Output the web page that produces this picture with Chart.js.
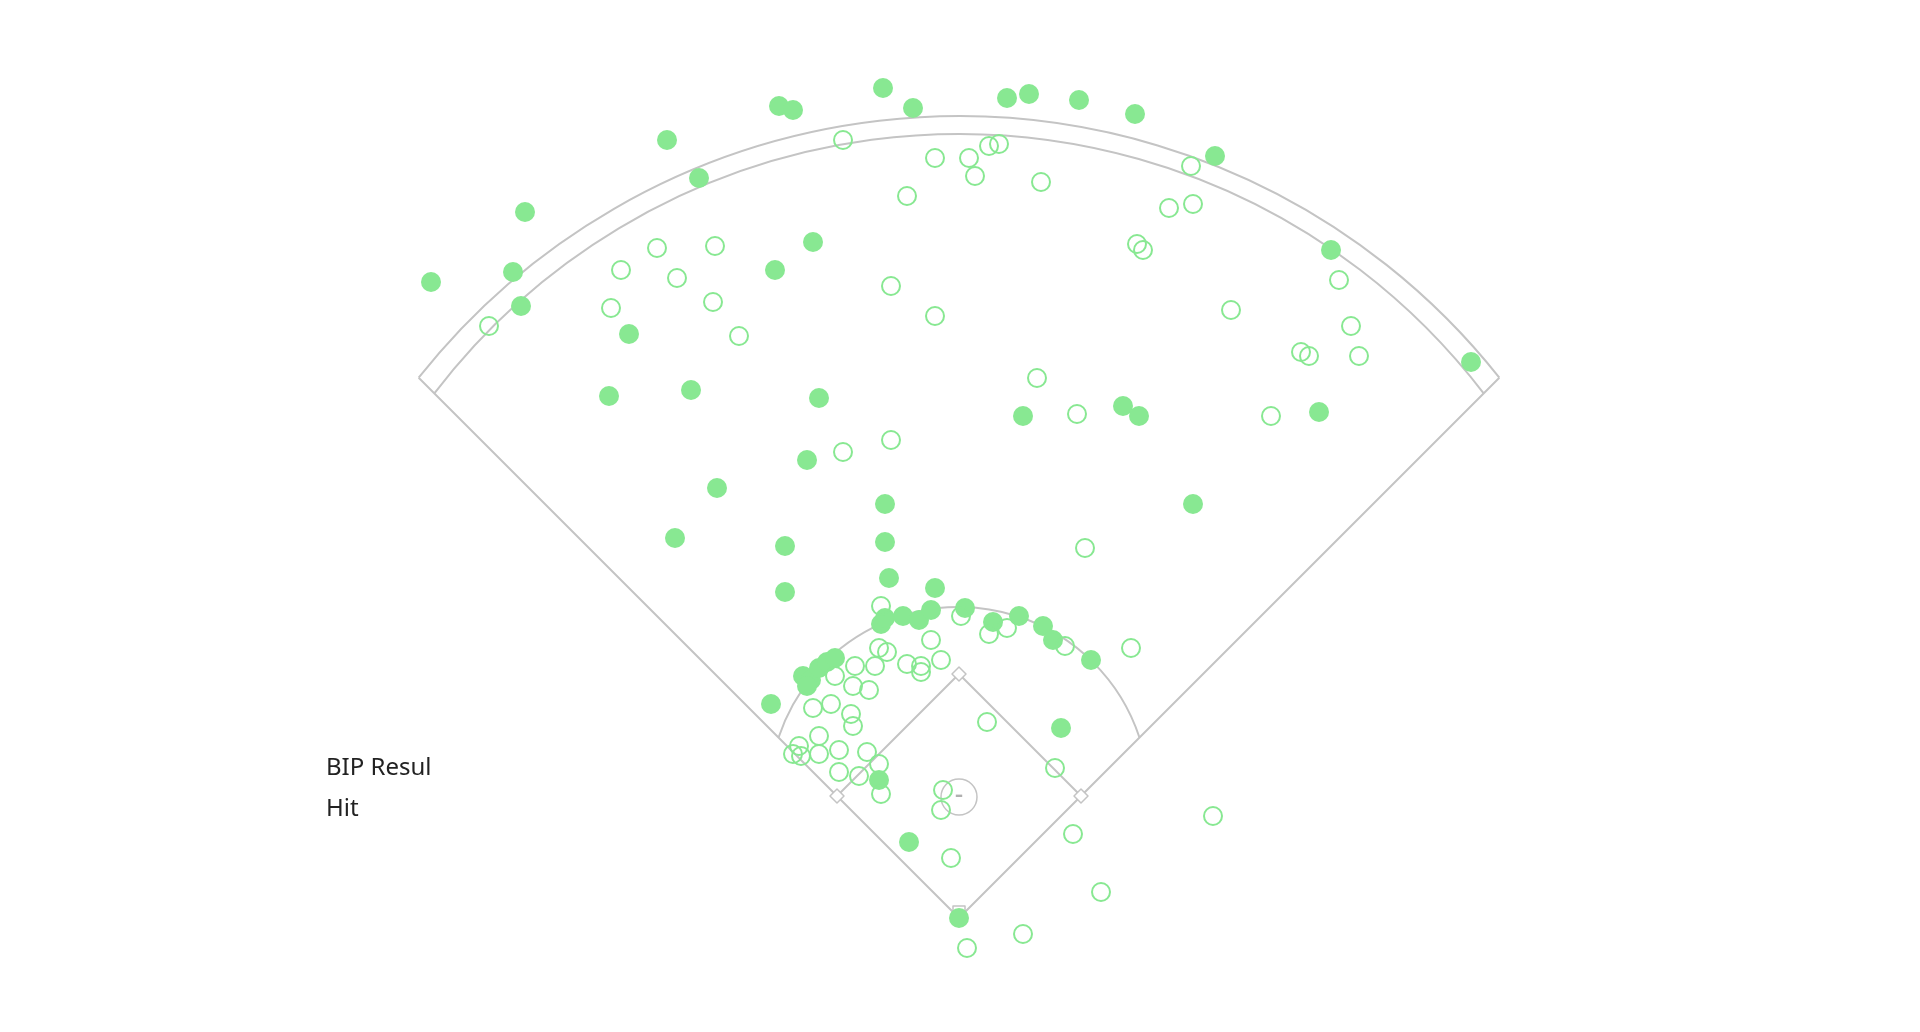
<!DOCTYPE html>
<html>
<head>
<meta charset="utf-8">
<title>Spray chart</title>
<script src="https://cdn.jsdelivr.net/npm/chart.js@4.4.1/dist/chart.umd.min.js"></script>
<style>
  html, body { margin: 0; padding: 0; background: #fff; overflow: hidden; }
  #wrap { position: relative; width: 1920px; height: 1032px; }
  #legend {
    position: absolute; left: 326px; top: 745px;
    font-family: "Noto Sans", sans-serif; font-size: 24px; line-height: 41px; color: #222;
  }
</style>
</head>
<body>
<div id="wrap">
  <canvas id="sprayChart" width="1920" height="1032"></canvas>
  <div id="legend"></div>
</div>
<script>
// balls in play, field coords in feet (home plate = 0,0, y toward centre field)
const hitX = [-38, -90, -83, -23, -146, -130, -217, -264, -223, -219, -73, -92, -165, -175, -134, -70,
  -76, -121, -37, -142, -87, -37, -35, -87, -12, 24, 35, 60, 88, 128, 186, 256, 32, 82, 90, 180, 117,
  -94, 51, -40, -25, 0, -39, -37, -28, -20, -14, 3, 17, 30, 42, 47, 66, -78, -74, -70, -66, -62, -76];
const hitY = [415, 406, 404, 405, 389, 370, 353, 318, 323, 306, 338, 324, 292, 261, 264, 260,
  229, 215, 207, 190, 186, 188, 170, 163, 165, 410, 412, 409, 402, 381, 334, 278, 251, 256, 251, 253, 207,
  107, 95, 69, 38, 0, 147, 150, 151, 149, 154, 155, 148, 151, 146, 139, 129, 121, 119, 125, 128, 130, 116];

const outX = [-58, -12, 5, 8, 15, 20, 41, -26, 116, 105, 117, 89, 92, 190, 136, 196, 171, 175, 200, 39,
  59, 156, 63, -235, -169, -151, -122, -141, -174, -123, -110, -34, -12, -58, -34, -39, 86, 127, 57, 71,
  32, 4, -4, 14, 48, -8, -9, -14, 1, 15, 24, 53, -9, -26, -19, -19, -40, -36, -42, -52, -53, -45, -62,
  -64, -73, -54, -53, -70, -80, -83, -79, -70, -60, -46, -60, -50, -40, -39];
const outY = [389, 380, 380, 371, 386, 387, 368, 361, 376, 355, 357, 337, 334, 319, 304, 296, 283, 281, 281, 270,
  252, 251, 185, 296, 324, 335, 336, 320, 305, 308, 291, 316, 301, 233, 239, 156, 135, 51, 42, 13,
  -8, -15, 30, 98, 75, 64, 54, 139, 151, 142, 145, 136, 129, 127, 126, 123, 135, 133, 126, 126, 116, 114, 121,
  107, 105, 102, 96, 91, 86, 82, 81, 82, 84, 83, 73, 71, 77, 62];

const legendTitle = 'BIP Resul';
const legendItems = ['Hit'];

const green = 'rgb(136,232,146)';
const lineGrey = '#c4c4c4';

// field shape, feet
const baseHalf = 61;        // half diagonal of the diamond
const moundY = 60.5, moundR = 9, grassR = 95;
const wallIn = { cy: 61.8, r: 330.2 };
const wallOut = { cy: 56.4, r: 344.5 };

function toPoints(xs, ys) {
  return xs.map((x, i) => ({ x: x, y: ys[i] }));
}

// where a circle centred on (0, cy) meets the foul line y = x
function foulEnd(cy, r) {
  return (cy + Math.sqrt(2 * r * r - cy * cy)) / 2;
}

const fieldPlugin = {
  id: 'field',
  beforeDatasetsDraw(chart) {
    const ctx = chart.ctx;
    const sx = chart.scales.x, sy = chart.scales.y;
    const px = v => sx.getPixelForValue(v);
    const py = v => sy.getPixelForValue(v);
    const kx = Math.abs(px(1) - px(0)), ky = Math.abs(py(1) - py(0));

    ctx.save();
    ctx.strokeStyle = lineGrey;
    ctx.lineWidth = 2;
    ctx.lineJoin = 'round';

    const arcBetweenFoulLines = (cy, r) => {
      const e = foulEnd(cy, r);
      const a = Math.atan2(e - cy, e);
      ctx.beginPath();
      ctx.ellipse(px(0), py(cy), r * kx, r * ky, 0, -Math.PI + a, -a);
      ctx.stroke();
    };

    // outfield wall (two lines) and infield grass edge
    arcBetweenFoulLines(wallOut.cy, wallOut.r);
    arcBetweenFoulLines(wallIn.cy, wallIn.r);
    arcBetweenFoulLines(moundY, grassR);

    // foul lines
    const pole = foulEnd(wallOut.cy, wallOut.r);
    ctx.beginPath();
    ctx.moveTo(px(-pole), py(pole));
    ctx.lineTo(px(0), py(0));
    ctx.lineTo(px(pole), py(pole));
    ctx.stroke();

    // diamond
    ctx.beginPath();
    ctx.moveTo(px(baseHalf), py(baseHalf));
    ctx.lineTo(px(0), py(baseHalf * 2));
    ctx.lineTo(px(-baseHalf), py(baseHalf));
    ctx.stroke();

    // mound
    ctx.lineWidth = 1.5;
    ctx.beginPath();
    ctx.ellipse(px(0), py(moundY), moundR * kx, moundR * ky, 0, 0, Math.PI * 2);
    ctx.stroke();
    ctx.fillStyle = '#b0b0b0';
    ctx.fillRect(px(-1.6), py(moundY + 1.2), 3.2 * kx, 1.2 * ky);

    // bases
    const bag = 3.5;
    [[baseHalf, baseHalf], [0, baseHalf * 2], [-baseHalf, baseHalf]].forEach(b => {
      ctx.beginPath();
      ctx.moveTo(px(b[0]), py(b[1] + bag));
      ctx.lineTo(px(b[0] + bag), py(b[1]));
      ctx.lineTo(px(b[0]), py(b[1] - bag));
      ctx.lineTo(px(b[0] - bag), py(b[1]));
      ctx.closePath();
      ctx.fillStyle = '#fff';
      ctx.fill();
      ctx.stroke();
    });

    // home plate
    ctx.beginPath();
    ctx.moveTo(px(0), py(0));
    ctx.lineTo(px(3), py(3));
    ctx.lineTo(px(3), py(6));
    ctx.lineTo(px(-3), py(6));
    ctx.lineTo(px(-3), py(3));
    ctx.closePath();
    ctx.fillStyle = '#fff';
    ctx.fill();
    ctx.stroke();
    ctx.restore();
  }
};

new Chart(document.getElementById('sprayChart'), {
  type: 'scatter',
  data: {
    datasets: [
      {
        label: 'Out',
        data: toPoints(outX, outY),
        pointRadius: 9,
        pointHoverRadius: 9,
        pointBorderWidth: 2,
        pointBorderColor: green,
        pointBackgroundColor: 'rgba(255,255,255,0)'
      },
      {
        label: 'Hit',
        data: toPoints(hitX, hitY),
        pointRadius: 10,
        pointHoverRadius: 10,
        pointBorderWidth: 0,
        pointBackgroundColor: green
      }
    ]
  },
  options: {
    responsive: false,
    animation: false,
    devicePixelRatio: 1,
    layout: { padding: 0, autoPadding: false },
    scales: {
      x: { type: 'linear', min: -479.5, max: 480.5, display: false },
      y: { type: 'linear', min: -57, max: 459, display: false }
    },
    plugins: {
      legend: { display: false },
      tooltip: {
        callbacks: {
          label: item => item.dataset.label + ' (' + item.raw.x + ', ' + item.raw.y + ')'
        }
      }
    }
  },
  plugins: [fieldPlugin]
});

const legend = document.getElementById('legend');
[legendTitle].concat(legendItems).forEach(t => {
  const d = document.createElement('div');
  d.textContent = t;
  legend.appendChild(d);
});
</script>
</body>
</html>
